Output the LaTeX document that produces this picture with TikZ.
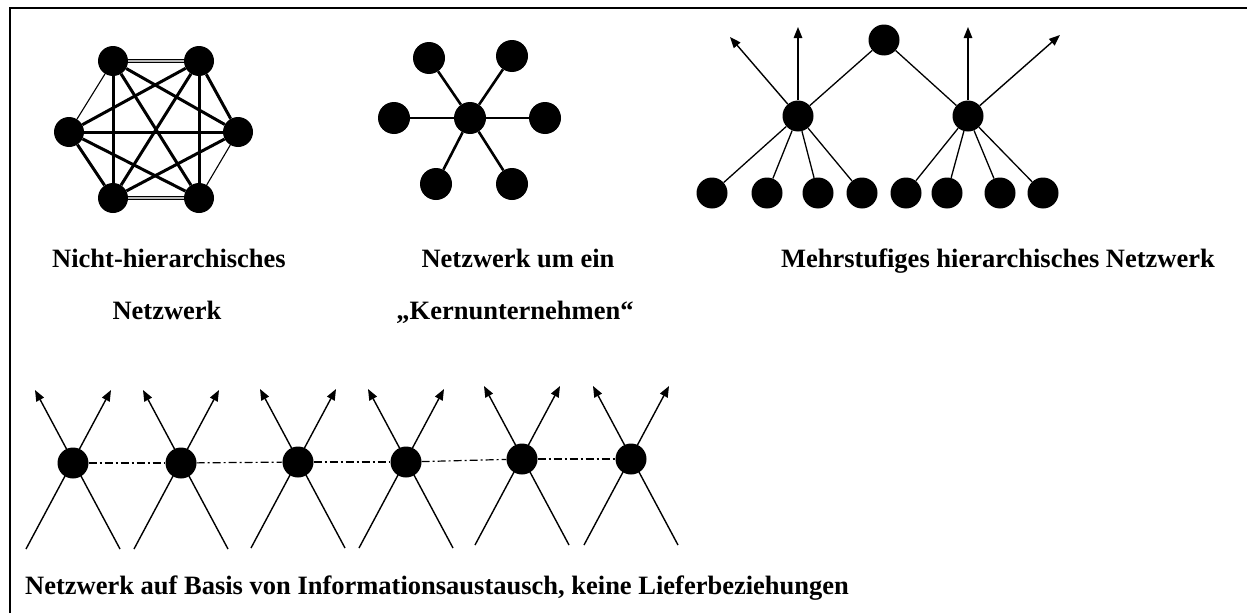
\documentclass[tikz,border=0pt]{standalone}
\usepackage{fontspec}
\setmainfont{Liberation Serif}
\usetikzlibrary{arrows.meta}
\begin{document}
\begin{tikzpicture}[x=1pt,y=-1pt,
  dot/.style={circle,fill=black,draw=none,inner sep=0pt,minimum size=#1},
  dot/.default=31pt,
  heavyedge/.style={line width=3pt},
  lightedge/.style={line width=1.1pt},
  twinedge/.style={line width=1.4pt,double=gray!55,double distance=1.3pt},
  link/.style={line width=1.3pt},
  arr/.style={line width=1.4pt,-{Triangle[length=11pt,width=8.5pt]}},
  chain/.style={line width=1.2pt,dash pattern=on 8pt off 3pt on 2pt off 3pt},
  caption/.style={anchor=base,inner sep=0pt,font=\fontsize{26.5}{26.5}\selectfont\bfseries},
]
\useasboundingbox (0,0) rectangle (1247,613);

% frame (top and left edges)
\draw[line width=2.7pt] (10,613) -- (10,8) -- (1247,8);

% --- fully meshed network ---
\node[dot=30pt] (h1) at (113,61) {};
\node[dot=30pt] (h2) at (199,61) {};
\node[dot=30pt] (h3) at (238,132) {};
\node[dot=30pt] (h4) at (199,198) {};
\node[dot=30pt] (h5) at (113,198) {};
\node[dot=30pt] (h6) at (69,132) {};
\draw[twinedge] (h1) -- (h2);
\draw[twinedge] (h5) -- (h4);
\draw[lightedge] (h1) -- (h6);
\draw[lightedge] (h4) -- (h3);
\draw[heavyedge] (h2) -- (h3);
\draw[heavyedge] (h5) -- (h6);
\foreach \a/\b in {1/3,1/4,1/5,2/4,2/5,2/6,3/5,3/6,4/6}
  \draw[heavyedge] (h\a) -- (h\b);

% --- star around a core company ---
\node[dot=32pt] (s0) at (470,118) {};
\node[dot=32pt] (s1) at (394,118) {};
\node[dot=32pt] (s2) at (545,118) {};
\node[dot=32pt] (s3) at (429,58) {};
\node[dot=32pt] (s4) at (512,56) {};
\node[dot=32pt] (s5) at (436,184) {};
\node[dot=32pt] (s6) at (512,184) {};
\foreach \k in {1,...,6}
  \draw[heavyedge,line width=2.6pt] (s0) -- (s\k);

% --- multi-level hierarchy ---
\node[dot] (t0) at (884,40) {};
\node[dot] (m1) at (798,116) {};
\node[dot] (m2) at (968,116) {};
\foreach \k/\x in {1/712,2/767,3/818,4/862,5/906,6/947,7/1000,8/1043}
  \node[dot] (b\k) at (\x,193) {};
\draw[link] (t0) -- (m1);
\draw[link] (t0) -- (m2);
\foreach \k in {1,...,4} \draw[link] (m1) -- (b\k);
\foreach \k in {5,...,8} \draw[link] (m2) -- (b\k);
\coordinate (m1a) at (730,37);
\coordinate (m1b) at (798,27);
\coordinate (m2a) at (968,27);
\coordinate (m2b) at (1060,35);
\draw[arr] (m1) -- (m1a);
\draw[arr] (m1) -- (m1b);
\draw[arr] (m2) -- (m2a);
\draw[arr] (m2) -- (m2b);

% --- information exchange chain ---
\foreach \i/\x/\y in {1/73/463,2/181/463,3/298/462,4/406/462,5/522/459,6/631/459}{
  \coordinate (x\i tl) at (\x-38,\y-73);
  \coordinate (x\i tr) at (\x+38,\y-73);
  \coordinate (x\i bl) at (\x-47,\y+86);
  \coordinate (x\i br) at (\x+47,\y+86);
  \draw[arr] (x\i bl) -- (x\i tr);
  \draw[arr] (x\i br) -- (x\i tl);
  \node[dot] (x\i) at (\x,\y) {};
}
\foreach \a/\b in {1/2,2/3,3/4,4/5,5/6}
  \draw[chain] (x\a) -- (x\b);

% --- captions ---
\node[caption] (c1a) at (169,267) {Nicht-hierarchisches};
\node[caption] (c1b) at (167,319) {Netzwerk};
\node[caption] (c2a) at (518,267) {Netzwerk um ein};
\node[caption] (c2b) at (515,319) {„Kernunternehmen“};
\node[caption] (c3) at (998,267) {Mehrstufiges hierarchisches Netzwerk};
\node[caption,anchor=base west] (c4) at (25,594) {Netzwerk auf Basis von Informationsaustausch, keine Lieferbeziehungen};
\end{tikzpicture}
\end{document}
